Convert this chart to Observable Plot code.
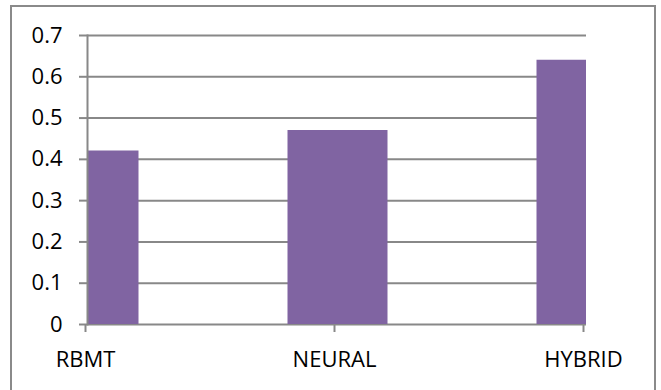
<!DOCTYPE html>
<html>
<head>
<meta charset="utf-8">
<script src="https://cdn.jsdelivr.net/npm/d3@7"></script>
<script src="https://cdn.jsdelivr.net/npm/@observablehq/plot@0.6"></script>
<style>
  html, body { margin: 0; padding: 0; background: #fff; overflow: hidden; }
  #wrap { position: relative; width: 661px; height: 390px; }
  #chart-border {
    position: absolute; left: 10px; top: 5px; width: 646px; height: 400px;
    border: 2px solid #8a8a8a; box-sizing: border-box; pointer-events: none;
  }
  #chart svg { display: block; }
</style>
</head>
<body>
<div id="wrap">
  <div id="chart"></div>
  <div id="chart-border"></div>
</div>
<script>
// Systems compared and their scores
const systems = ["RBMT", "NEURAL", "HYBRID"];
const scores = [0.42, 0.47, 0.64];
const yTicks = [0, 0.1, 0.2, 0.3, 0.4, 0.5, 0.6, 0.7];

const rows = systems.map((s, i) => ({system: s, score: scores[i]}));
const gridColor = "#888888";

const chart = Plot.plot({
  width: 661,
  height: 390,
  marginLeft: 87,
  marginRight: 75,
  marginTop: 35,
  marginBottom: 66,
  style: {fontFamily: "'Open Sans', sans-serif", fontSize: "22px", color: "#000", background: "#fff"},
  x: {type: "point", domain: systems, padding: 0},
  y: {domain: [0, 0.7]},
  marks: [
    // horizontal gridlines
    Plot.gridY(yTicks, {stroke: gridColor, strokeOpacity: 1, strokeWidth: 2}),
    // bars centred on the category ticks, clipped at the plot frame
    Plot.ruleX(rows, {
      x: "system", y1: 0, y2: "score",
      stroke: "#8064A2", strokeWidth: 100, strokeLinecap: "butt", clip: true
    }),
    // vertical axis line
    Plot.frame({anchor: "left", stroke: gridColor, strokeWidth: 2}),
    Plot.axisY(yTicks, {
      tickSize: 8, tickPadding: 17, stroke: gridColor, strokeWidth: 2,
      fill: "#000", label: null, tickFormat: d => d === 0 ? "0" : d3.format(".1f")(d)
    }),
    Plot.axisX(systems, {
      tickSize: 8, tickPadding: 19, stroke: gridColor, strokeWidth: 2,
      fill: "#000", label: null, dx: -3
    })
  ]
});

document.getElementById("chart").appendChild(chart);
</script>
</body>
</html>
